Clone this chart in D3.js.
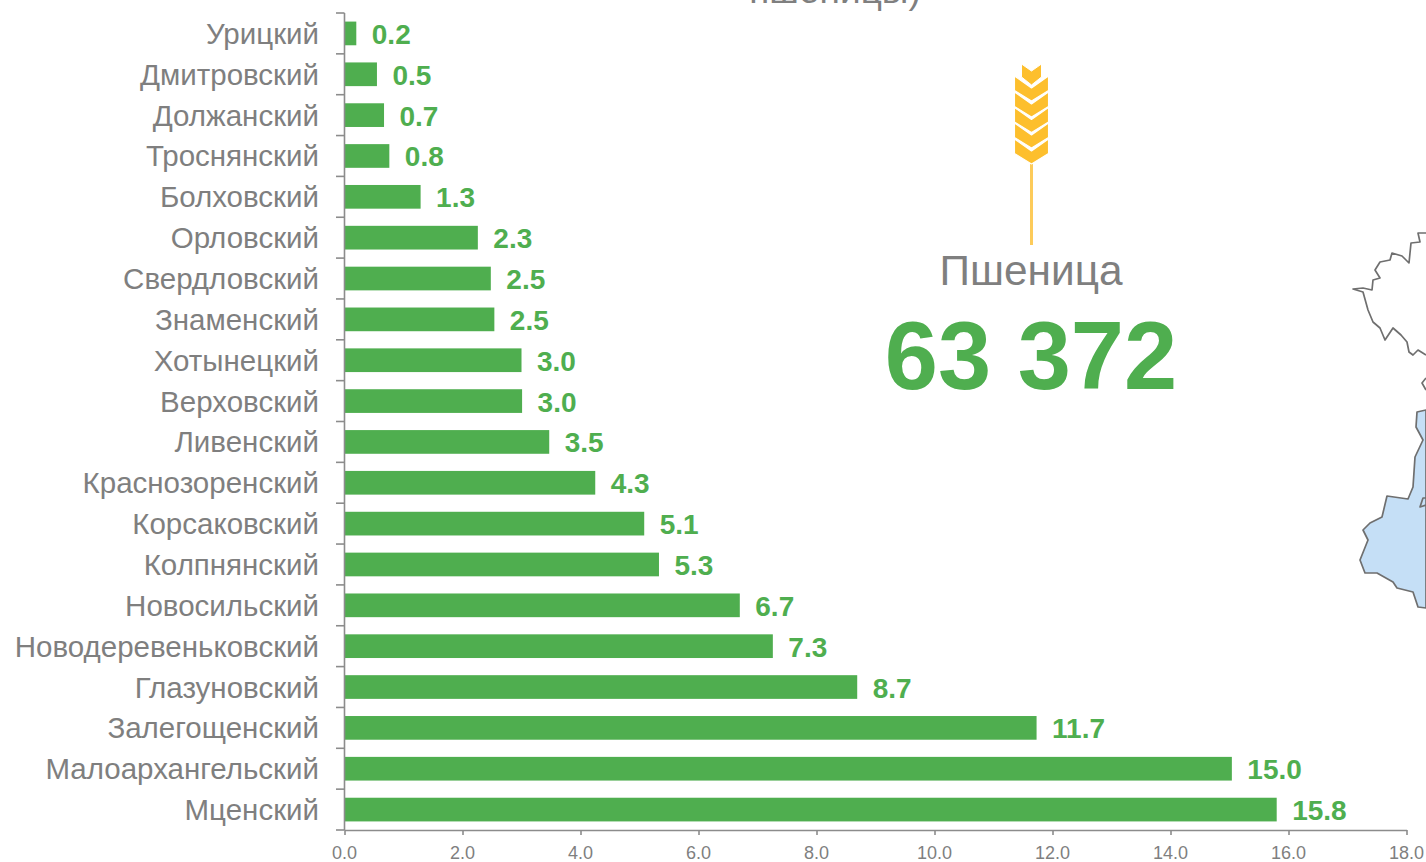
<!DOCTYPE html>
<html lang="ru">
<head>
<meta charset="utf-8">
<script src="https://cdn.jsdelivr.net/npm/d3@7"></script>
<style>
html,body{margin:0;padding:0;background:#fff;overflow:hidden}
svg{display:block;font-family:"Liberation Sans",Arial,sans-serif}
</style>
</head>
<body>
<svg id="c" width="1426" height="862"></svg>
<script>
const districts = ["Урицкий","Дмитровский","Должанский","Троснянский","Болховский","Орловский","Свердловский","Знаменский","Хотынецкий","Верховский","Ливенский","Краснозоренский","Корсаковский","Колпнянский","Новосильский","Новодеревеньковский","Глазуновский","Залегощенский","Малоархангельский","Мценский"];
const values = [0.2,0.55,0.67,0.76,1.29,2.26,2.48,2.54,3.0,3.01,3.47,4.25,5.08,5.33,6.7,7.26,8.69,11.73,15.04,15.8];
const valueLabels = ["0.2","0.5","0.7","0.8","1.3","2.3","2.5","2.5","3.0","3.0","3.5","4.3","5.1","5.3","6.7","7.3","8.7","11.7","15.0","15.8"];
const xTicks = [0,2,4,6,8,10,12,14,16,18];
const cropName = "Пшеница";
const cropTotal = "63 372";
const clippedTitle = "пшеницы)";

const GREEN="#4fae4f", GREY="#7f7f7f", AXIS="#8c8c8c", GOLD="#fdbf2d";
const svg=d3.select("#c");
const x=d3.scaleLinear().domain([0,18]).range([344.5,1406.5]);
const y=d3.scaleBand().domain(districts).range([13,830]).paddingInner(0.42).paddingOuter(0.21);

// clipped title
svg.append("text").attr("x",835).attr("y",3).attr("text-anchor","middle")
  .attr("font-size",37).attr("fill",GREY).text(clippedTitle);

// bars
svg.append("g").selectAll("rect").data(districts).join("rect")
  .attr("x",x(0)).attr("y",d=>y(d)).attr("height",y.bandwidth())
  .attr("width",(d,i)=>x(values[i])-x(0)).attr("fill",GREEN);

// value labels
svg.append("g").selectAll("text").data(districts).join("text")
  .attr("x",(d,i)=>x(values[i])+15.5).attr("y",d=>y(d)+y.bandwidth()/2+10.5)
  .attr("font-size",28).attr("font-weight","bold").attr("fill",GREEN)
  .text((d,i)=>valueLabels[i]);

// category labels
svg.append("g").selectAll("text").data(districts).join("text")
  .attr("x",319).attr("y",d=>y(d)+y.bandwidth()/2+10.5).attr("text-anchor","end")
  .attr("font-size",29.5).attr("fill",GREY).text(d=>d);

// axes
const yEdges=d3.range(districts.length+1).map(i=>13+i*(817/districts.length));
const ax=svg.append("g").attr("stroke",AXIS).attr("stroke-width",1.6);
ax.append("line").attr("x1",x(0)).attr("x2",x(0)).attr("y1",13).attr("y2",830);
ax.selectAll(".ty").data(yEdges).join("line").attr("class","ty")
  .attr("x1",336).attr("x2",x(0)).attr("y1",d=>d).attr("y2",d=>d);
const xAxis=svg.append("g").attr("transform","translate(0,830)")
  .call(d3.axisBottom(x).tickValues(xTicks).tickSize(5).tickSizeOuter(0).tickFormat(d3.format(".1f")));
xAxis.selectAll("path,line").attr("stroke",AXIS).attr("stroke-width",1.6);
xAxis.selectAll("text").attr("font-size",18).attr("font-family","'Liberation Sans',Arial,sans-serif")
  .attr("fill",GREY).attr("y",16).attr("dx",-0.5);

// wheat icon
const wheat=svg.append("g");
wheat.append("line").attr("x1",1031.5).attr("x2",1031.5).attr("y1",160).attr("y2",245)
  .attr("stroke","#fdcb5a").attr("stroke-width",3);
wheat.append("path").attr("fill",GOLD).attr("stroke","#fff").attr("stroke-width",1)
  .attr("d","M1021.5,64 L1031.5,71 L1041.5,64 L1041.5,77 L1031.5,85 L1021.5,77Z");
[76,92,107.5,123,139].forEach(t=>{
  wheat.append("path").attr("fill",GOLD).attr("stroke","#fff").attr("stroke-width",1.1).attr("stroke-linejoin","round").attr("d",
    `M1014.5,${t} L1031.5,${t+12} L1048.5,${t} L1048.5,${t+14.5} L1031.5,${t+25} L1014.5,${t+14.5}Z`);
});

// big numbers
svg.append("text").attr("x",1031).attr("y",285).attr("text-anchor","middle")
  .attr("font-size",42.4).attr("fill",GREY).text(cropName);
svg.append("text").attr("x",1031).attr("y",389).attr("text-anchor","middle")
  .attr("font-size",95.6).attr("font-weight","bold").attr("fill",GREEN).text(cropTotal);

// map fragment
const map=svg.append("g").attr("fill","none").attr("stroke","#6f6f6f").attr("stroke-width",1.7).attr("stroke-linejoin","round");
map.append("path").attr("d","M1426,233 L1418,233 L1420,242 L1411,243 L1409,263 L1402,256 L1392,253 L1390,260 L1380,262 L1375,270 L1380,278 L1373,280 L1372,290 L1363,288 L1353,289 L1363,292 L1368,310 L1373,322 L1380,328 L1385,340 L1393,328 L1401,335 L1407,342 L1409,352 L1413,355 L1418,350 L1426,355");
map.append("path").attr("d","M1426,378 L1422,383 L1426,390");
map.append("path").attr("fill","#c5dff6").attr("d","M1426,410 L1417,412 L1416,427 L1423,440 L1415,457 L1413,487 L1408,499 L1387,496 L1382,517 L1370,523 L1363,530 L1368,540 L1360,560 L1365,573 L1377,573 L1393,582 L1397,588 L1413,592 L1418,607 L1426,608Z");
map.append("path").attr("d","M1426,498 L1423,498 L1420,507 L1426,505");
</script>
</body>
</html>
